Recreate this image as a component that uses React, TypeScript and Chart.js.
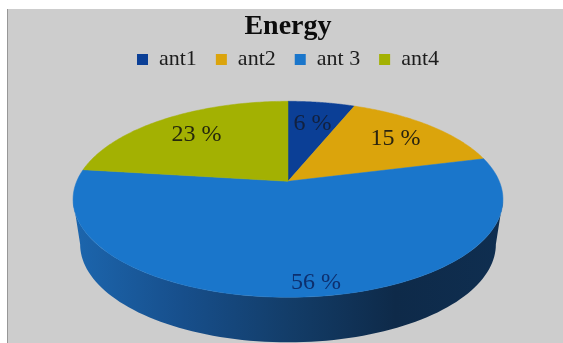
import React, { useEffect, useRef } from "react";
import { Chart, registerables } from "chart.js";

Chart.register(...registerables);

const categories = ["ant1", "ant2", "ant 3", "ant4"];
const energyShare = [6, 15, 56, 23];
const sliceColors = ["#0b3f96", "#dba40c", "#1a76cb", "#a3b102"];
const labelColors = ["#12213f", "#2a2410", "#0d2f6e", "#26290c"];
const labelRadius = [0.7, 0.74, 0.9, 0.72];
const labelAngleNudge = [0, 0, -3.5, 0];

// Perspective of the tilted disc: near edge looks larger than the far edge.
const PERSPECTIVE = 0.1837;
const STRETCH_X = 2.113;
const STRETCH_Y = 0.947;
const WALL_DEPTH = 45;
const WALL_SHRINK = 0.967;

function project(arc: any, angle: number, r = 1) {
  // Chart.js angles start at 3 o'clock; a is measured clockwise from 12 o'clock.
  const a = angle + Math.PI / 2;
  const u = r * Math.sin(a);
  const v = r * Math.cos(a);
  const d = 1 + PERSPECTIVE * v;
  return {
    x: arc.x + (arc.outerRadius * STRETCH_X * u) / d,
    y: arc.y - (arc.outerRadius * STRETCH_Y * v) / d,
  };
}

const tiltedPie = {
  id: "tiltedPie",
  beforeDatasetDraw(chart: any) {
    const { ctx } = chart;
    const arcs = chart.getDatasetMeta(0).data;
    const STEPS = 90;

    // Side wall: only the front part of the rim faces the viewer.
    const frontStart = -Math.PI / 2 + Math.acos(-PERSPECTIVE);
    const frontEnd = -Math.PI / 2 + 2 * Math.PI - Math.acos(-PERSPECTIVE);
    const first = arcs[0];
    const gradient = ctx.createLinearGradient(first.x - 215, 0, first.x + 215, 0);
    gradient.addColorStop(0, "#1c66ae");
    gradient.addColorStop(0.25, "#174f8c");
    gradient.addColorStop(0.5, "#133d69");
    gradient.addColorStop(0.75, "#0e2a49");
    gradient.addColorStop(1, "#0f2e50");
    ctx.save();
    ctx.fillStyle = gradient;
    ctx.beginPath();
    for (let i = 0; i <= STEPS; i++) {
      const p = project(first, frontStart + ((frontEnd - frontStart) * i) / STEPS);
      ctx.lineTo(p.x, p.y);
    }
    for (let i = STEPS; i >= 0; i--) {
      const p = project(first, frontStart + ((frontEnd - frontStart) * i) / STEPS);
      ctx.lineTo(first.x + (p.x - first.x) * WALL_SHRINK, p.y + WALL_DEPTH);
    }
    ctx.closePath();
    ctx.fill();

    // Top surface: one projected sector per slice.
    arcs.forEach((arc: any, index: number) => {
      ctx.fillStyle = sliceColors[index];
      ctx.strokeStyle = sliceColors[index];
      ctx.lineWidth = 0.5;
      ctx.beginPath();
      ctx.moveTo(arc.x, arc.y);
      for (let i = 0; i <= STEPS; i++) {
        const p = project(arc, arc.startAngle + ((arc.endAngle - arc.startAngle) * i) / STEPS);
        ctx.lineTo(p.x, p.y);
      }
      ctx.closePath();
      ctx.fill();
      ctx.stroke();
    });

    // Percentage labels on the slices.
    ctx.font = "24px 'Liberation Serif'";
    ctx.textAlign = "center";
    ctx.textBaseline = "middle";
    arcs.forEach((arc: any, index: number) => {
      const mid = (arc.startAngle + arc.endAngle) / 2 + (labelAngleNudge[index] * Math.PI) / 180;
      const p = project(arc, mid, labelRadius[index]);
      ctx.fillStyle = labelColors[index];
      ctx.fillText(`${energyShare[index]} %`, p.x, p.y);
    });
    ctx.restore();
    return false;
  },
};

export default function App() {
  const canvasRef = useRef<HTMLCanvasElement>(null);

  useEffect(() => {
    const chart = new Chart(canvasRef.current as HTMLCanvasElement, {
      type: "pie",
      data: {
        labels: categories,
        datasets: [{ data: energyShare, backgroundColor: sliceColors, borderWidth: 0, radius: 100 }],
      },
      plugins: [tiltedPie],
      options: {
        responsive: false,
        animation: false,
        layout: { padding: { left: 13, top: 10, bottom: 61 } },
        plugins: {
          tooltip: { enabled: false },
          title: {
            display: true,
            text: "Energy",
            color: "#0c0c0c",
            font: { family: "'Liberation Serif'", size: 28, weight: "bold" },
            padding: { top: 0, bottom: -14 },
          },
          legend: {
            position: "top",
            labels: {
              color: "#1c1c1c",
              font: { family: "'Liberation Serif'", size: 22 },
              boxWidth: 11,
              boxHeight: 11,
              padding: 19,
            },
          },
        },
      },
    } as any);
    return () => chart.destroy();
  }, []);

  return (
    <div style={{ position: "absolute", left: 0, top: 0, width: 563, height: 343, background: "#fff", overflow: "hidden" }}>
      <div
        style={{
          position: "absolute",
          left: 7,
          top: 9,
          right: 0,
          bottom: 0,
          background: "#cdcdcd",
          borderLeft: "1.5px solid #979797",
        }}
      />
      <canvas ref={canvasRef} width={563} height={343} style={{ position: "absolute", left: 0, top: 0, display: "block" }} />
    </div>
  );
}
